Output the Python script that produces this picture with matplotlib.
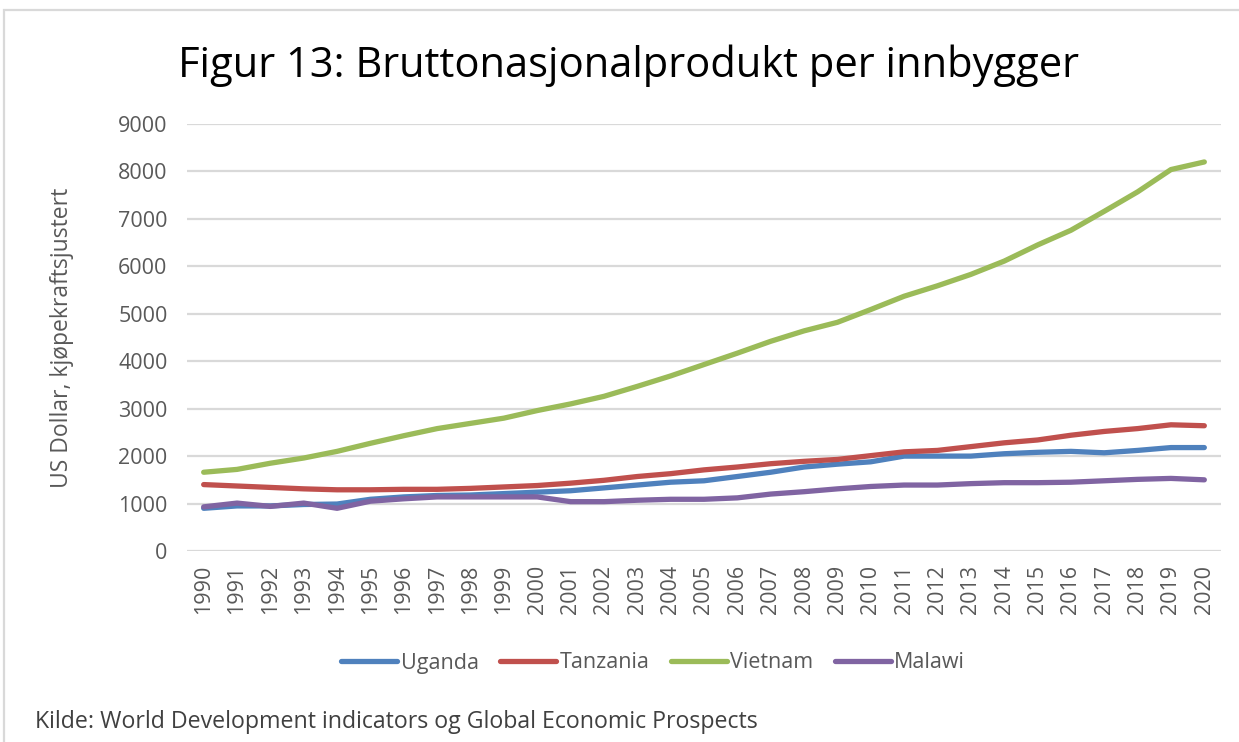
import matplotlib
matplotlib.use("Agg")
import matplotlib.pyplot as plt
from matplotlib.patches import Rectangle

years = list(range(1990, 2021))
uganda = [900, 950, 950, 980, 990, 1090, 1140, 1170, 1180, 1210, 1240, 1270, 1330, 1390, 1450, 1480,
          1570, 1660, 1770, 1830, 1880, 2000, 2000, 2000, 2050, 2080, 2100, 2070, 2120, 2180, 2180]
tanzania = [1400, 1370, 1340, 1310, 1290, 1290, 1300, 1300, 1320, 1350, 1380, 1430, 1490, 1570, 1630, 1710,
            1770, 1840, 1890, 1930, 2010, 2090, 2120, 2200, 2280, 2340, 2440, 2520, 2580, 2660, 2640]
vietnam = [1660, 1720, 1850, 1960, 2100, 2270, 2430, 2580, 2690, 2800, 2960, 3100, 3260, 3470, 3690, 3930,
           4170, 4420, 4640, 4820, 5090, 5370, 5590, 5830, 6110, 6450, 6760, 7160, 7570, 8040, 8200]
malawi = [930, 1010, 940, 1010, 900, 1050, 1100, 1140, 1140, 1140, 1140, 1040, 1040, 1070, 1090, 1090,
          1120, 1200, 1250, 1310, 1360, 1390, 1390, 1420, 1440, 1440, 1450, 1480, 1510, 1530, 1500]
series_names = ["Uganda", "Tanzania", "Vietnam", "Malawi"]
series_values = [uganda, tanzania, vietnam, malawi]
colors = ["#4F81BD", "#C0504D", "#9BBB59", "#8064A2"]
y_ticks = list(range(0, 9001, 1000))

plt.rcParams['font.family'] = ['Open Sans', 'DejaVu Sans']

fig = plt.figure(figsize=(12.39, 7.42), dpi=100)
ax = fig.add_axes([187/1239, 1 - 551/742, (1221-187)/1239, (551-124)/742])

for name, vals, c in zip(series_names, series_values, colors):
    ax.plot(years, vals, color=c, lw=3.8, label=name, solid_capstyle='round', solid_joinstyle='round')

ax.set_xlim(1989.5, 2020.5)
ax.set_ylim(0, 9000)
ax.set_yticks(y_ticks)
ax.set_yticklabels([str(v) for v in y_ticks])
ax.set_xticks(years)
ax.set_xticklabels([str(y) for y in years], rotation=90)
ax.grid(axis='y', color='#d9d9d9', lw=1.6)
ax.set_axisbelow(True)
for s in ax.spines.values():
    s.set_visible(False)
ax.tick_params(axis='both', length=0, colors='#595959', labelsize=15.5)
ax.tick_params(axis='y', pad=14)
ax.tick_params(axis='x', pad=10)

fig.text(62/1239, 1 - 338/742, "US Dollar, kjøpekraftsjustert", rotation=90,
         ha='center', va='center', fontsize=16.5, color='#595959')

fig.text(628/1239, 1 - 66/742, "Figur 13: Bruttonasjonalprodukt per innbygger",
         ha='center', va='center', fontsize=30, color='black')

leg = fig.legend(loc='center', bbox_to_anchor=(653/1239, 1 - 663/742), ncol=4, frameon=False,
                 fontsize=15.5, handlelength=2.6, handletextpad=0.15, columnspacing=1.0)
for t in leg.get_texts():
    t.set_color('#595959')

fig.text(35/1239, 1 - 722/742, "Kilde: World Development indicators og Global Economic Prospects",
         ha='left', va='center', fontsize=16.7, color='#404040')

fig.patches.append(Rectangle((4/1239, -0.05), 1.1, 1 - 10/742 + 0.05, transform=fig.transFigure,
                             fill=False, edgecolor='#d9d9d9', lw=1.6))

fig.savefig("out.png", dpi=100)
